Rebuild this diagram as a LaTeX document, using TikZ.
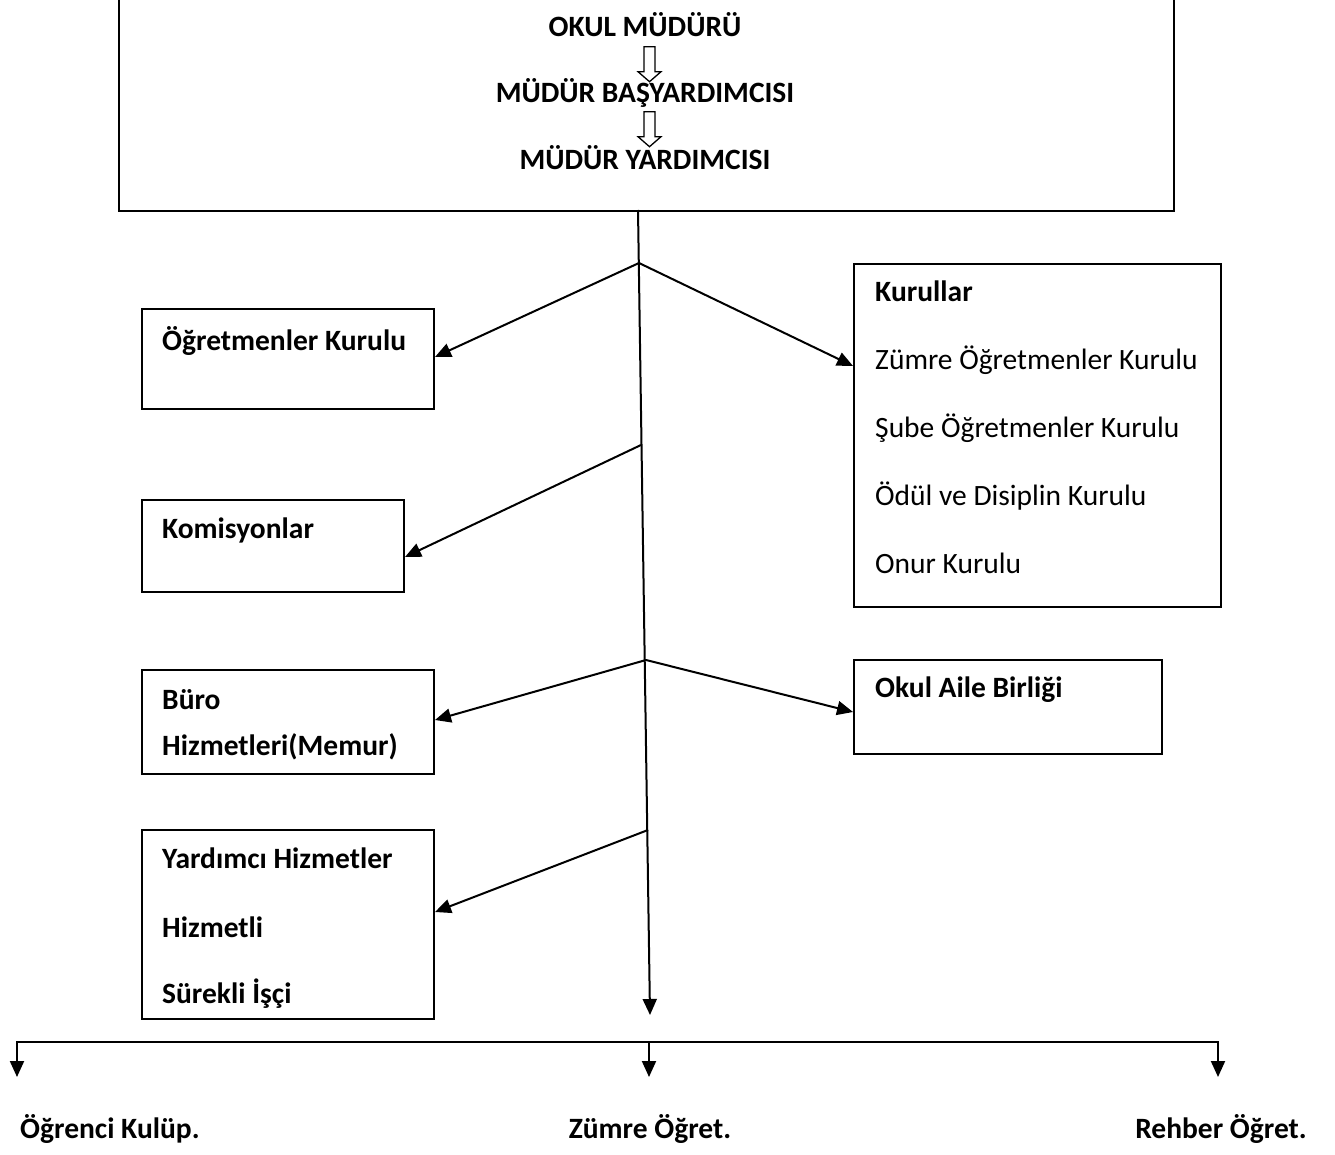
\documentclass[tikz,border=0pt]{standalone}
\usepackage{fontspec}
\setmainfont{Carlito}
\usetikzlibrary{arrows.meta,positioning}

\tikzset{
  kutu/.style={draw, line width=2pt, inner sep=0pt, anchor=north west},
  yazi/.style={anchor=base west, inner sep=0pt, font=\fontsize{29.5}{35}\selectfont},
  kalin/.style={yazi, font=\fontsize{29.5}{35}\selectfont\bfseries},
  ok/.style={line width=2pt, -{Triangle[length=16pt,width=14pt]}},
}

\begin{document}
\begin{tikzpicture}[x=1pt,y=-1pt]
  \useasboundingbox (0,0) rectangle (1335,1155);
  % ust kutu
  \node[kutu, minimum width=1055pt, minimum height=230pt] (mudur) at (118,-20) {};
  \node[kalin, anchor=base] (okul) at (645,37) {OKUL MÜDÜRÜ};
  \node[kalin, anchor=base] (bas) at (645,103) {MÜDÜR BAŞYARDIMCISI};
  \node[kalin, anchor=base] (yrd) at (645,170) {MÜDÜR YARDIMCISI};
  \foreach \t in {46.7,111.7}
    \draw[line width=1.3pt] (644,\t) -- (655,\t) -- (655,\t+25) -- (661,\t+25)
          -- (649.5,\t+35) -- (638,\t+25) -- (644,\t+25) -- cycle;

  % sol kutular
  \node[kutu, minimum width=292pt, minimum height=100pt] (ogret) at (141,308) {};
  \node[kalin] (ogrety) at (162,350) {Öğretmenler Kurulu};
  \node[kutu, minimum width=262pt, minimum height=92pt] (komis) at (141,499) {};
  \node[kalin] (komisy) at (162,538) {Komisyonlar};
  \node[kutu, minimum width=292pt, minimum height=104pt] (buro) at (141,669) {};
  \node[kalin] (buroy1) at (162,709) {Büro};
  \node[kalin] (buroy2) at (162,755) {Hizmetleri(Memur)};
  \node[kutu, minimum width=292pt, minimum height=189pt] (yard) at (141,829) {};
  \node[kalin] (yardy1) at (162,868) {Yardımcı Hizmetler};
  \node[kalin] (yardy2) at (162,937) {Hizmetli};
  \node[kalin] (yardy3) at (162,1003) {Sürekli İşçi};

  % sag kutular
  \node[kutu, minimum width=367pt, minimum height=343pt] (kurul) at (853,263) {};
  \node[kalin] (kurul0) at (875,302) {Kurullar};
  \foreach \y/\s [count=\i] in {369/Zümre Öğretmenler Kurulu, 437/Şube Öğretmenler Kurulu,
                                505/Ödül ve Disiplin Kurulu, 573/Onur Kurulu}
    \node[yazi] (kurul\i) at (875,\y) {\s};
  \node[kutu, minimum width=308pt, minimum height=94pt] (aile) at (853,659) {};
  \node[kalin] (ailey) at (875,697) {Okul Aile Birliği};

  % ana hat
  \coordinate (m0) at (638,210);
  \coordinate (m5) at (650,1015);
  \coordinate (b1) at (639,263);
  \coordinate (b2) at (641,445);
  \coordinate (b3) at (646,660);
  \coordinate (b4) at (648,830);
  \draw[ok] (m0) -- (m5);
  \draw[ok] (b1) -- ([yshift=-49pt]ogret.north east);
  \draw[ok] (b1) -- ([yshift=-103pt]kurul.north west);
  \draw[ok] (b2) -- ([yshift=-58pt]komis.north east);
  \draw[ok] (b3) -- ([yshift=-51pt]buro.north east);
  \draw[ok] (b3) -- ([yshift=-53pt]aile.north west);
  \draw[ok] (b4) -- ([yshift=-83pt]yard.north east);

  % alt hat
  \coordinate (s0) at (17,1042);
  \coordinate (s1) at (649,1042);
  \coordinate (s2) at (1218,1042);
  \coordinate (a0) at (17,1077);
  \coordinate (a1) at (649,1077);
  \coordinate (a2) at (1218,1077);
  \draw[ok] (s1) -- (s0) -- (a0);
  \draw[ok] (s1) -- (s2) -- (a2);
  \draw[ok] (s1) -- (a1);
  \node[kalin] (alt0) at (20,1138) {Öğrenci Kulüp.};
  \node[kalin, anchor=base] (alt1) at (650,1138) {Zümre Öğret.};
  \node[kalin, anchor=base east] (alt2) at (1307,1138) {Rehber Öğret.};
\end{tikzpicture}
\end{document}
